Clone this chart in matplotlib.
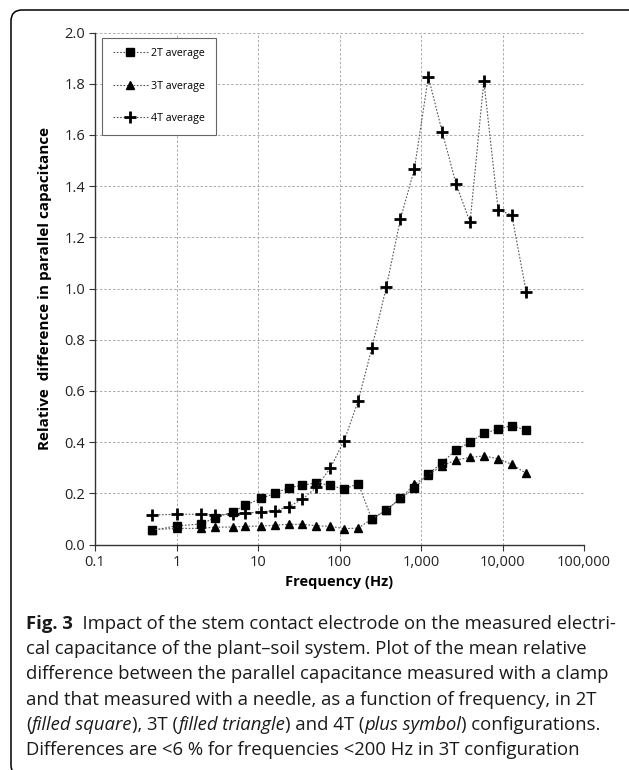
import matplotlib
matplotlib.use('Agg')
import matplotlib.pyplot as plt
from matplotlib.patches import FancyBboxPatch
from matplotlib.ticker import FixedLocator, NullLocator

# frequencies (Hz)
freq = [0.5, 1, 2, 3, 5, 7, 11, 16, 24, 35, 52, 77, 114, 170, 250, 375,
        560, 830, 1230, 1820, 2700, 4000, 5900, 8850, 13000, 19500]

avg_2t = [0.055, 0.073, 0.080, 0.105, 0.128, 0.154, 0.180, 0.200, 0.222, 0.231,
          0.241, 0.231, 0.216, 0.238, 0.098, 0.135, 0.180, 0.220, 0.275, 0.320,
          0.370, 0.400, 0.434, 0.451, 0.464, 0.447]

avg_3t = [0.058, 0.063, 0.063, 0.068, 0.068, 0.071, 0.072, 0.075, 0.079, 0.079,
          0.073, 0.071, 0.062, 0.064, 0.100, 0.135, 0.180, 0.235, 0.272, 0.308,
          0.330, 0.340, 0.346, 0.335, 0.313, 0.278]

avg_4t = [0.115, 0.118, 0.118, 0.115, 0.119, 0.122, 0.128, 0.132, 0.148, 0.177,
          0.223, 0.298, 0.405, 0.562, 0.769, 1.005, 1.272, 1.467, 1.827, 1.612,
          1.407, 1.259, 1.810, 1.307, 1.287, 0.988]

x_ticks = [0.1, 1, 10, 100, 1000, 10000, 100000]
x_labels = ['0.1', '1', '10', '100', '1,000', '10,000', '100,000']
y_ticks = [0.0, 0.2, 0.4, 0.6, 0.8, 1.0, 1.2, 1.4, 1.6, 1.8, 2.0]

caption = [
    [('Fig. 3', 'bold', 'normal'),
     ('  Impact of the stem contact electrode on the measured electri-', 'normal', 'normal')],
    [('cal capacitance of the plant\u2013soil system. Plot of the mean relative', 'normal', 'normal')],
    [('difference between the parallel capacitance measured with a clamp', 'normal', 'normal')],
    [('and that measured with a needle, as a function of frequency, in 2T', 'normal', 'normal')],
    [('(', 'normal', 'normal'), ('filled square', 'normal', 'italic'),
     ('), 3T (', 'normal', 'normal'), ('filled triangle', 'normal', 'italic'),
     (') and 4T (', 'normal', 'normal'), ('plus symbol', 'normal', 'italic'),
     (') configurations.', 'normal', 'normal')],
    [('Differences are <6 % for frequencies <200 Hz in 3T configuration', 'normal', 'normal')],
]

W, H = 629, 770
plt.rcParams['font.family'] = ['Open Sans', 'DejaVu Sans']
fig = plt.figure(figsize=(W / 100, H / 100), dpi=100)

# rounded frame around figure + caption (runs off the right and bottom edges)
frame = FancyBboxPatch((11, -6), 660, H - 10 + 6, boxstyle='round,pad=0,rounding_size=11',
                       transform=None, fill=False, edgecolor='black', linewidth=1.1)
fig.patches.append(frame)

ax = fig.add_axes([95 / W, 1 - 544.5 / H, 489 / W, 512 / H])
line_kw = dict(color='#555555', linestyle=(0, (1.5, 1.5)), linewidth=0.8)
ax.plot(freq, avg_2t, marker='s', markersize=6, markerfacecolor='black',
        markeredgecolor='black', label='2T average', **line_kw)
ax.plot(freq, avg_3t, marker='^', markersize=6, markerfacecolor='black',
        markeredgecolor='black', label='3T average', **line_kw)
ax.plot(freq, avg_4t, marker='+', markersize=8.5, markeredgewidth=2,
        markeredgecolor='black', label='4T average', **line_kw)

ax.set_xscale('log')
ax.set_xlim(0.1, 100000)
ax.set_ylim(0, 2.0)
ax.xaxis.set_major_locator(FixedLocator(x_ticks))
ax.xaxis.set_minor_locator(NullLocator())
ax.set_xticklabels(x_labels)
ax.set_yticks(y_ticks)
ax.set_yticklabels(['%.1f' % v for v in y_ticks])
ax.tick_params(axis='both', labelsize=10.5, length=4, width=0.8, color='#333333',
               labelcolor='#222222', direction='out')
ax.tick_params(axis='y', pad=3)
ax.grid(True, color='#aaaaaa', linestyle=(0, (2.5, 2)), linewidth=0.7)
for side in ['top', 'right']:
    ax.spines[side].set_visible(False)
for side in ['left', 'bottom']:
    ax.spines[side].set_color('#333333')
    ax.spines[side].set_linewidth(1.0)

ax.set_xlabel('Frequency (Hz)', fontsize=10.5, fontweight='bold', labelpad=4)
ax.set_ylabel('Relative  difference in parallel capacitance', fontsize=11,
              fontweight='bold', labelpad=9)

leg = ax.legend(loc='upper left', bbox_to_anchor=(7 / 489, 1 - 5 / 512), borderaxespad=0,
                fontsize=7.7, labelspacing=2.0, handlelength=3.3, handletextpad=0.3,
                borderpad=1.0, fancybox=False, framealpha=1)
leg.get_frame().set_edgecolor('#666666')
leg.get_frame().set_linewidth(0.8)

# caption, drawn piece by piece so bold/italic parts can be mixed
fig.canvas.draw()
renderer = fig.canvas.get_renderer()
x0 = 26
baseline = 629
for row in caption:
    x = x0
    for txt, weight, style in row:
        t = fig.text(x / W, 1 - baseline / H, txt, fontsize=13.3, fontweight=weight,
                     fontstyle=style, color='#1a1a1a', va='baseline', ha='left')
        bb = t.get_window_extent(renderer=renderer)
        x += bb.width
    baseline += 25.2

fig.savefig('out.png', dpi=100)
